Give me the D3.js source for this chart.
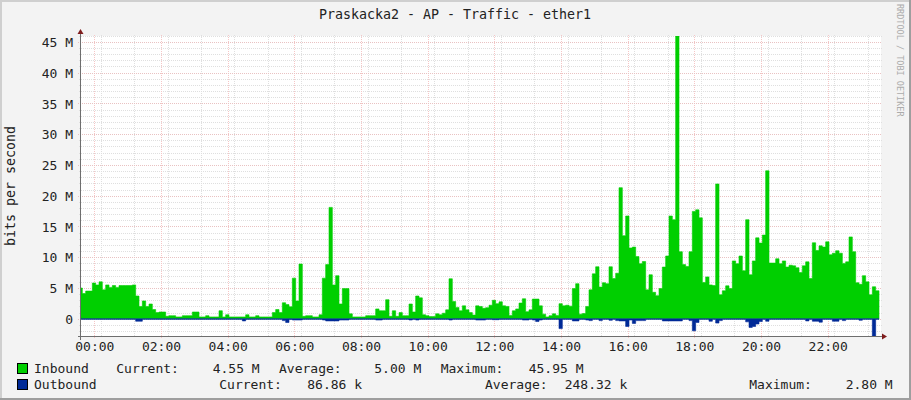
<!DOCTYPE html>
<html>
<head>
<meta charset="utf-8">
<script src="https://cdn.jsdelivr.net/npm/d3@7"></script>
<style>
  html, body { margin: 0; padding: 0; background: #f3f3f3; }
  svg { display: block; }
  text { font-family: "DejaVu Sans Mono", monospace; fill: #222; white-space: pre; }
</style>
</head>
<body>
<div id="chart"></div>
<script>
// values in M (bits per second), one per 6 minute slot
const inbound = [
  5.0, 4.1, 4.5, 4.5, 5.8, 5.5, 6.0, 4.7, 5.5, 5.1, 5.4, 5.1, 5.4, 5.4, 5.4, 5.4, 5.5, 3.7, 2.0, 2.9,
  2.0, 2.4, 1.5, 1.0, 1.1, 1.1, .4, .5, .5, .3, .3, .5, .5, .5, 1.1, 1.1, .3, .3, .5, .3,
  .3, .3, 1.3, .3, .65, .3, .3, .3, .3, .3, .65, .3, .3, .5, .3, .3, .3, .3, 1.0, 1.5,
  1.0, 2.6, 2.3,
  1.95, 6.6, 2.9, 8.9, .4, .5, .5, .3, .3, .65, 6.6, 8.8, 18.1, 5.5, 7.0, 2.4, 4.9, 4.9, .8,
  .3, .3, .3, .3, .5, .5, .5, 1.6, 1.3, 1.3, 3.1, .4, 1.3, .4, 1.0, .5, .5, 2.4, 1.1, 3.7,
  3.4, .65, .5, .35, .35, .8, .65, .9, 1.45, 6.5, 2.8, 1.85, 1.3, 2.1, 1.45, 1.0, .6, 2.1, 2.0, 1.7,
  1.8, 2.2,
  3.0, 2.45, 2.75, 2.1, 2.0, .55, 1.3, 1.6, 2.55, 3.25, 1.15, 1.45, 3.2, 3.2, 2.1, .75, .3, .5,
  .8, .55, 2.45, 2.1, 2.2, 2.05, 4.9, 5.7, .75, .85, 2.0, 4.7, 7.3, 8.45, 5.15, 5.85, 5.7, 8.45, 6.55, 7.4,
  21.3, 13.5, 16.7, 11.5, 11.65, 10.1, 8.95, 9.3, 4.7, 7.15, 4.3, 3.75, 4.9, 8.4, 10.2, 16.7, 16.1,
  45.95, 10.9, 8.8, 8.5, 10.9, 17.45, 17.7, 16.4, 5.9, 6.8, 5.5, 5.4, 21.9, 3.9, 4.55, 5.35, 4.9, 9.4, 8.95, 10.2,
  7.8, 16.1, 7.15, 9.4, 13.15, 12.3, 13.6, 24.05, 9.05, 9.05, 9.75, 8.95, 9.4, 8.4, 8.7, 8.6, 8.3, 7.5, 8.6, 9.25,
  6.55, 12.35, 11.1, 11.85, 11.65, 12.5, 10.4, 10.65, 11.05, 10.65, 9.0, 9.25, 13.3, 10.9, 5.85, 5.6, 7.0, 6.0, 3.9, 5.2,
  4.55
];

const outbound = [
  .09, .09, .09, .09, .09, .09, .09, .09, .09, .09, .09, .09, .09, .09, .09, .09, .09, .4, .4, .09,
  .09, .09, .09, .09, .09, .09, .09, .09, .09, .09, .09, .09, .09, .09, .09, .09, .09, .09, .09, .09,
  .09, .09, .09, .09, .09, .09, .09, .09, .09, .35, .09, .09, .09, .09, .09, .09, .09, .09, .09, .09,
  .09, .3, .6, .1, .2, .2, .2, .09, .09, .09, .09, .09, .09, .2, .35, .35, .35, .35, .2, .2,
  .2, .09, .09, .09, .09, .09, .09, .09, .09, .2, .2, .09, .09, .09, .09, .09, .09, .09, .09, .2,
  .09, .2, .09, .09, .09, .09, .09, .09, .09, .09, .09, .2, .09, .09, .09, .09, .09, .09, .09, .2,
  .2, .2, .09, .09, .15, .15, .09, .09, .09, .09, .09, .09, .09, .2, .2, .09, .2, .45, .2, .09,
  .09, .09, .09, .09, 1.6, .09, .09, .09, .35, .35, .09, .09, .2, .3, .09, .09, .3, .09, .09, .25,
  .09, .3, .35, .35, 1.25, .2, .75, .3, .3, .3, .09, .09, .09, .09, .09, .35, .35, .35, .35, .35,
  .35, .09, .09, .3, 1.95, .6, .09, .09, .09, .4, .09, .7, .3, .09, .09, .09, .09, .09, .09, .09,
  .5, 1.4, 1.25, .85, .45, .09, .4, .09, .09, .09, .09, .09, .09, .09, .09, .09, .09, .09, .35, .09,
  .4, .4, .55, .09, .09, .09, .4, .4, .09, .3, .09, .09, .09, .09, .25, .09, .09, .09, 2.8, .087
];

const yTickValues = [0, 5, 10, 15, 20, 25, 30, 35, 40, 45];
const yTickLabels = ['0', '5 M', '10 M', '15 M', '20 M', '25 M', '30 M', '35 M', '40 M', '45 M'];
const yMinorValues = [-2, -1, 1, 2, 3, 4, 6, 7, 8, 9, 11, 12, 13, 14, 16, 17, 18, 19, 21, 22, 23, 24,
  26, 27, 28, 29, 31, 32, 33, 34, 36, 37, 38, 39, 41, 42, 43, 44, 46];
const xTickLabels = ['00:00', '02:00', '04:00', '06:00', '08:00', '10:00', '12:00', '14:00', '16:00', '18:00', '20:00', '22:00'];

// legend rows: [text, left edge]
const legendInbound = [['Inbound', 34], ['Current:', 116.3], ['4.55 M', 212.7], ['Average:', 279], ['5.00 M', 374.3], ['Maximum:', 440.7], ['45.95 M', 528.7]];
const legendOutbound = [['Outbound', 34], ['Current:', 219.3], ['86.86 k', 307.3], ['Average:', 485], ['248.32 k', 564.7], ['Maximum:', 749.3], ['2.80 M', 845.7]];

const W = 911, H = 400;
const margin = {top: 36, right: 30, bottom: 64, left: 81},
  width = W - margin.left - margin.right,
  height = H - margin.top - margin.bottom;

const root = d3.select('#chart').append('svg')
  .attr('width', W)
  .attr('height', H);

// frame
root.append('rect').attr('width', W).attr('height', H).attr('fill', '#f3f3f3');
root.append('path').attr('d', `M0,1H${W - 1}M1,0V${H - 1}`).attr('stroke', '#cfcfcf').attr('stroke-width', 2).attr('fill', 'none');
root.append('path').attr('d', `M0,${H - 1}H${W}M${W - 1},0V${H}`).attr('stroke', '#9e9e9e').attr('stroke-width', 2).attr('fill', 'none');

const svg = root.append('g').attr('transform', `translate(${margin.left},${margin.top})`);

svg.append('rect').attr('width', width).attr('height', height).attr('fill', '#fff');

// x axis runs 23:36 to 23:36, data slots are 6 minutes
const start = new Date(2020, 0, 1, 23, 36), end = new Date(2020, 0, 2, 23, 36);
const slotStart = i => new Date(+start + (i - 0.6) * 6 * 60000);
const xScale = d3.scaleTime().domain([start, end]).range([0, width]);
const yScale = d3.scaleLinear().domain([-2.8, 45.95]).range([height, 0]);

const parseTick = d3.timeParse('%Y-%m-%d %H:%M');
const majorTimes = xTickLabels.map(l => parseTick('2020-01-02 ' + l));
const minorTimes = d3.timeMinute.range(start, end, 30).filter(d => d.getMinutes() % 60 !== 36)
  .map(d => new Date(+d + 6 * 60000))
  .filter(d => !(d.getMinutes() === 0 && d.getHours() % 2 === 0));

// grid
const gridMinor = '#dfdfdf', gridMajorX = '#f6c6c6', gridMajorY = '#e9c2c2';

const xMinor = svg.append('g').attr('transform', `translate(0,${height})`)
  .call(d3.axisBottom(xScale).tickValues(minorTimes).tickFormat(''));
xMinor.select('.domain').remove();
xMinor.selectAll('line').attr('y1', 0).attr('y2', -height - 2).attr('stroke', gridMinor)
  .attr('stroke-dasharray', '1,1').attr('shape-rendering', 'crispEdges');

const yMinor = svg.append('g')
  .call(d3.axisLeft(yScale).tickValues(yMinorValues).tickFormat(''));
yMinor.select('.domain').remove();
yMinor.selectAll('line').attr('x1', -2).attr('x2', width + 1).attr('stroke', gridMinor)
  .attr('stroke-dasharray', '1,1').attr('shape-rendering', 'crispEdges');

const xMajor = svg.append('g').attr('transform', `translate(0,${height})`)
  .call(d3.axisBottom(xScale).tickValues(majorTimes).tickFormat((d, i) => xTickLabels[i]).tickPadding(3));
xMajor.select('.domain').remove();
xMajor.selectAll('line').attr('y1', 2).attr('y2', -height - 2).attr('stroke', gridMajorX)
  .attr('stroke-dasharray', '1,1').attr('shape-rendering', 'crispEdges');
xMajor.selectAll('text').attr('y', 15).attr('dy', null).attr('font-size', 13).attr('fill', '#222')
  .style('font-family', '"DejaVu Sans Mono", monospace');

const yMajor = svg.append('g')
  .call(d3.axisLeft(yScale).tickValues(yTickValues).tickFormat((d, i) => yTickLabels[i]));
yMajor.select('.domain').remove();
yMajor.selectAll('line').attr('x1', -3).attr('x2', width + 1).attr('stroke', gridMajorY)
  .attr('stroke-dasharray', '1,1').attr('shape-rendering', 'crispEdges');
yMajor.selectAll('text').attr('x', -8).attr('dy', '0.36em').attr('font-size', 13).attr('fill', '#222')
  .style('font-family', '"DejaVu Sans Mono", monospace');

// data areas, last slot repeated so the step has a right edge
const slots = inbound.map((d, i) => ({t: slotStart(i), inb: d, out: outbound[i]}));
slots.push({t: slotStart(inbound.length), inb: inbound[inbound.length - 1], out: outbound[outbound.length - 1]});

svg.append('clipPath').attr('id', 'plot').append('rect').attr('width', width).attr('height', height + 1);

const inArea = d3.area().curve(d3.curveStepAfter).x(d => xScale(d.t)).y0(yScale(0)).y1(d => yScale(d.inb));
const outArea = d3.area().curve(d3.curveStepAfter).x(d => xScale(d.t)).y0(yScale(0)).y1(d => yScale(-d.out));

svg.append('path').datum(slots).attr('clip-path', 'url(#plot)').attr('fill', '#00CF00')
  .attr('stroke', '#00CF00').attr('stroke-width', 0.6).attr('d', inArea);
svg.append('path').datum(slots).attr('clip-path', 'url(#plot)').attr('fill', '#002A97')
  .attr('stroke', '#002A97').attr('stroke-width', 0.6).attr('d', outArea);

// axes lines and arrows
const axisColor = '#6e6e6e', arrowColor = '#7f1d1d';
svg.append('line').attr('x1', -0.5).attr('x2', -0.5).attr('y1', -5).attr('y2', height + 4)
  .attr('stroke', axisColor).attr('shape-rendering', 'crispEdges');
svg.append('line').attr('x1', -3).attr('x2', width + 3).attr('y1', height + 0.5).attr('y2', height + 0.5)
  .attr('stroke', axisColor).attr('shape-rendering', 'crispEdges');
svg.append('path').attr('d', 'M-3.5,-2L-0.5,-7L2.5,-2Z').attr('fill', arrowColor);
svg.append('path').attr('d', `M${width + 1},${height - 2.5}L${width + 6},${height + 0.5}L${width + 1},${height + 3.5}Z`).attr('fill', arrowColor);

// title and side labels
root.append('text').attr('x', 455).attr('y', 19).attr('text-anchor', 'middle').attr('font-size', 13.3)
  .text('Praskacka2 - AP - Traffic - ether1');
root.append('text').attr('transform', 'translate(15,186) rotate(-90)').attr('text-anchor', 'middle').attr('font-size', 13.3)
  .text('bits per second');
root.append('text').attr('transform', 'translate(897,4) rotate(90)').attr('font-size', 8.5).style('fill', '#ababab')
  .text('RRDTOOL / TOBI OETIKER');

// legend
[[legendInbound, '#00CF00', 373], [legendOutbound, '#002A97', 389]].forEach(([row, color, y]) => {
  root.append('rect').attr('x', 17.5).attr('y', y - 9.5).attr('width', 10).attr('height', 10)
    .attr('fill', color).attr('stroke', '#000').attr('shape-rendering', 'crispEdges');
  root.selectAll(null).data(row).enter().append('text')
    .attr('x', d => d[1]).attr('y', y).attr('font-size', 13)
    .text(d => d[0]);
});
</script>
</body>
</html>
